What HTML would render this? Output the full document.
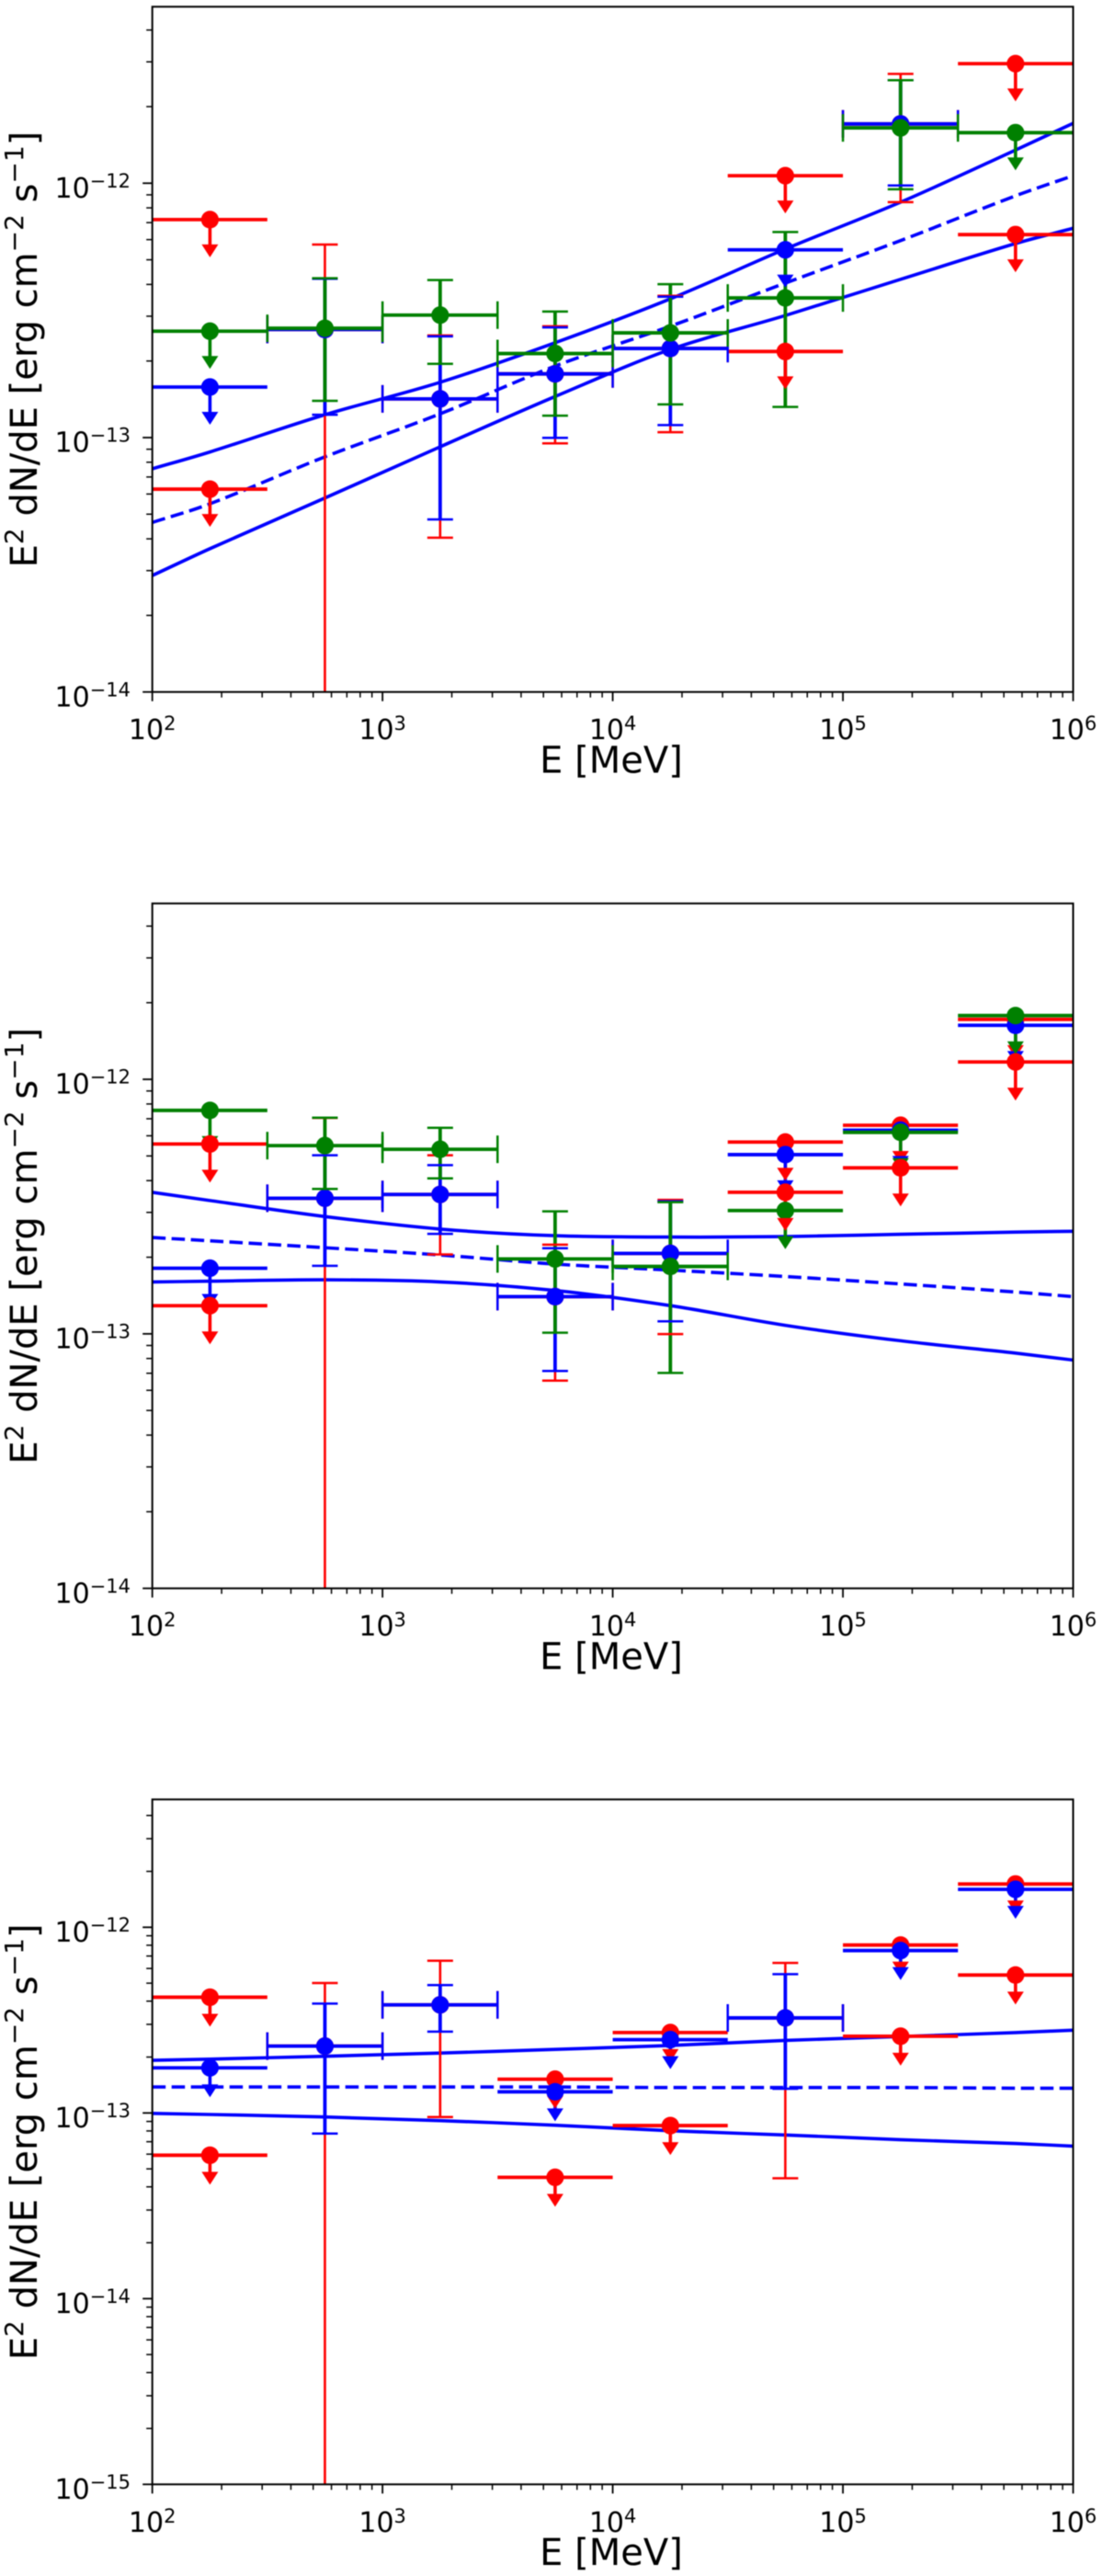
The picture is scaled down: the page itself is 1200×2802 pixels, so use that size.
<!DOCTYPE html>
<html lang="en">
<head>
<meta charset="utf-8">
<title>Spectral energy distributions</title>
<style>
html,body{margin:0;padding:0;background:#fff;width:1200px;height:2802px;overflow:hidden}
svg{display:block;filter:blur(.55px)}
text{font-family:"DejaVu Sans","Liberation Sans",sans-serif;fill:#000}
</style>
</head>
<body>
<svg id="figure" xmlns="http://www.w3.org/2000/svg" width="1200" height="2802" viewBox="0 0 1200 2802">
<rect x="0" y="0" width="1200" height="2802" fill="#fff"/>
</svg>
<script>
// Energy bins (MeV)
const binCenters = [178, 562, 1780, 5620, 17800, 56200, 178000, 562000];
const binLow = [100, 316, 1000, 3160, 10000, 31600, 100000, 316000];
const binHigh = [316, 1000, 3160, 10000, 31600, 100000, 316000, 1000000];
const xTickExponents = [2, 3, 4, 5, 6];

// All flux values below are in units of 1e-13 erg cm^-2 s^-1; null flux = no point,
// null hi/lo = the point is an upper limit.
const fluxUnit = 1e-13;
const offScale = 1e-4;

// Fit curves sample energies (MeV)
const fitEnergies = [100, 178, 562, 1780, 5620, 17800, 56200, 178000, 562000, 1000000];

// Panel 1
const panel1RedFlux = [7.19, 2.66, 1.42, 1.78, 2.24, 10.7, 17.1, 29.5];
const panel1RedHi = [null, 5.74, 2.52, 2.74, 3.61, null, 26.9, null];
const panel1RedLo = [null, offScale, 0.404, 0.949, 1.05, null, 8.42, null];
const panel1RedLimit = [0.627, null, null, null, null, 2.18, null, 6.28];
const panel1BlueFlux = [1.58, 2.66, 1.42, 1.78, 2.24, 5.47, 17.1, null];
const panel1BlueHi = [null, 4.21, 2.50, 2.71, 3.58, null, 25.4, null];
const panel1BlueLo = [null, 1.23, 0.477, 0.998, 1.12, null, 9.80, null];
const panel1GreenFlux = [2.62, 2.69, 3.03, 2.14, 2.58, 3.54, 16.5, 15.8];
const panel1GreenHi = [null, 4.23, 4.16, 3.13, 4.01, 6.43, 25.4, null];
const panel1GreenLo = [null, 1.395, 1.95, 1.22, 1.35, 1.32, 9.46, null];
const panel1FitUpper = [0.754, 0.878, 1.23, 1.65, 2.36, 3.51, 5.51, 8.42, 13.5, 17.2];
const panel1FitMid = [0.464, 0.549, 0.840, 1.24, 1.91, 2.74, 4.05, 5.95, 8.92, 10.7];
const panel1FitLower = [0.287, 0.366, 0.579, 0.920, 1.45, 2.22, 3.02, 4.19, 5.79, 6.65];

// Panel 2
const panel2RedFlux = [null, 3.41, 3.53, 1.40, 2.07, 5.67, 6.60, 17.2];
const panel2RedHi = [null, 7.05, 5.03, 2.24, 3.36, null, null, null];
const panel2RedLo = [null, offScale, 2.05, 0.655, 0.998, null, null, null];
const panel2RedLimit = [1.29, null, null, null, null, 3.60, 4.49, 11.7];
const panel2RedLimitTop = [5.57, null, null, null, null, null, null, null];
const panel2BlueFlux = [1.81, 3.41, 3.53, 1.40, 2.07, 5.06, 6.31, 16.3];
const panel2BlueHi = [null, 5.03, 4.60, 2.17, 3.32, null, null, null];
const panel2BlueLo = [null, 1.85, 2.47, 0.715, 1.12, null, null, null];
const panel2GreenFlux = [7.55, 5.49, 5.31, 1.97, 1.84, 3.05, 6.19, 17.8];
const panel2GreenHi = [null, 7.07, 6.45, 3.03, 3.29, null, null, null];
const panel2GreenLo = [null, 3.71, 4.08, 1.01, 0.702, null, null, null];
const panel2FitUpper = [3.60, 3.34, 2.89, 2.58, 2.43, 2.40, 2.41, 2.46, 2.51, 2.53];
const panel2FitMid = [2.39, 2.32, 2.18, 2.04, 1.88, 1.78, 1.68, 1.57, 1.46, 1.40];
const panel2FitLower = [1.60, 1.61, 1.63, 1.60, 1.48, 1.29, 1.08, 0.939, 0.840, 0.789];

// Panel 3
const panel3RedFlux = [4.20, 2.29, 3.82, 1.52, 2.71, 3.25, 8.02, 17.1];
const panel3RedHi = [null, 5.01, 6.60, null, null, 6.43, null, null];
const panel3RedLo = [null, offScale, 0.951, null, null, 0.445, null, null];
const panel3RedLimit = [0.592, null, null, 0.450, 0.855, null, 2.59, 5.53];
const panel3BlueFlux = [1.75, 2.29, 3.82, 1.30, 2.48, 3.25, 7.49, 16.0];
const panel3BlueHi = [null, 3.88, 4.88, null, null, 5.59, null, null];
const panel3BlueLo = [null, 0.775, 2.74, null, null, 1.35, null, null];
const panel3FitUpper = [1.92, 1.95, 2.02, 2.10, 2.20, 2.31, 2.46, 2.58, 2.71, 2.79];
const panel3FitMid = [1.38, 1.38, 1.38, 1.38, 1.38, 1.37, 1.37, 1.37, 1.36, 1.36];
const panel3FitLower = [0.995, 0.981, 0.951, 0.909, 0.859, 0.802, 0.761, 0.718, 0.684, 0.663];

const panel1YTicks = [-14, -13, -12];
const panel2YTicks = [-14, -13, -12];
const panel3YTicks = [-15, -14, -13, -12];

const NS = 'http://www.w3.org/2000/svg';
const figure = document.getElementById('figure');
const plotLeft = 165.7, plotRight = 1167.5;
const RED = '#ff0000', BLUE = '#0000ff', GREEN = '#008000';

function xScale(e) {
  return plotLeft + (Math.log10(e) - 2) / 4 * (plotRight - plotLeft);
}
function make(tag, attrs, parent) {
  const el = document.createElementNS(NS, tag);
  for (const k in attrs) el.setAttribute(k, attrs[k]);
  parent.appendChild(el);
  return el;
}
function seg(parent, x1, y1, x2, y2, color, w, name) {
  const el = make('line', {x1: x1, y1: y1, x2: x2, y2: y2, stroke: color, 'stroke-width': w}, parent);
  
  
  return el;
}
function group(parent, name) {
  const el = make('g', {}, parent);
  
  
  return el;
}
function pow10Label(parent, x, y, anchor, exponent, size, supSize, rise, name) {
  const t = make('text', {x: x, y: y, 'text-anchor': anchor, 'font-size': size}, parent);
  
  
  const base = make('tspan', {}, t);
  base.textContent = '10';
  const sup = make('tspan', {dy: -rise, 'font-size': supSize}, t);
  sup.textContent = String(exponent).replace('-', '\u2212');
  return t;
}

function drawSeries(segLayer, markLayer, yScale, values, hi, lo, color, drop, bottom, prefix) {
  values.forEach(function (v, i) {
    if (v === null) return;
    const cx = xScale(binCenters[i]);
    const cy = yScale(v * fluxUnit);
    const xl = xScale(binLow[i]);
    const xh = xScale(binHigh[i]);
    const name = prefix + '-bin-' + (i + 1);
    seg(segLayer, xl, cy, xh, cy, color, 3.8, name + '-x-error');
    if (hi[i] === null || hi[i] === undefined) {
      seg(segLayer, cx, cy, cx, cy + drop - 6, color, 3.6, name + '-limit-stem');
      const head = make('polygon', {
        points: (cx - 9) + ',' + (cy + drop - 14) + ' ' + (cx + 9) + ',' + (cy + drop - 14) + ' ' + cx + ',' + (cy + drop),
        fill: color
      }, markLayer);
      
      
    } else {
      const yh = yScale(hi[i] * fluxUnit);
      const yl = yScale(lo[i] * fluxUnit);
      seg(segLayer, cx, yh, cx, Math.min(yl, bottom), color, color === RED ? 2.6 : 3.8, name + '-y-error');
      seg(markLayer, cx - 14, yh, cx + 14, yh, color, 2.5, name + '-upper-cap');
      if (yl < bottom) {
        seg(markLayer, cx - 14, yl, cx + 14, yl, color, 2.5, name + '-lower-cap');
      }
      seg(markLayer, xl, cy - 15, xl, cy + 15, color, 2.5, name + '-left-cap');
      seg(markLayer, xh, cy - 15, xh, cy + 15, color, 2.5, name + '-right-cap');
    }
    const dot = make('circle', {cx: cx, cy: cy, r: 9.6, fill: color}, markLayer);
    
    
  });
}

function drawFit(layer, yScale, values, dashed, name) {
  const xs = fitEnergies.map(xScale);
  const ys = values.map(function (v) { return yScale(v * fluxUnit); });
  const n = xs.length;
  const slopes = xs.map(function (x, i) {
    const a = Math.max(i - 1, 0), b = Math.min(i + 1, n - 1);
    return (ys[b] - ys[a]) / (xs[b] - xs[a]);
  });
  let d = 'M' + xs[0].toFixed(1) + ' ' + ys[0].toFixed(1);
  for (let i = 0; i < n - 1; i++) {
    const h = (xs[i + 1] - xs[i]) / 3;
    d += ' C' + (xs[i] + h).toFixed(1) + ' ' + (ys[i] + slopes[i] * h).toFixed(1) +
         ' ' + (xs[i + 1] - h).toFixed(1) + ' ' + (ys[i + 1] - slopes[i + 1] * h).toFixed(1) +
         ' ' + xs[i + 1].toFixed(1) + ' ' + ys[i + 1].toFixed(1);
  }
  const attrs = {d: d, fill: 'none', stroke: BLUE, 'stroke-width': 3.6};
  if (dashed) attrs['stroke-dasharray'] = '14.5 6.5';
  const el = make('path', attrs, layer);
  
  
}

function drawPanel(cfg) {
  const top = cfg.top, bottom = cfg.bottom;
  const logMin = Math.log10(cfg.yMin), logMax = Math.log10(cfg.yMax);
  function yScale(v) {
    return bottom - (Math.log10(v) - logMin) / (logMax - logMin) * (bottom - top);
  }
  const panel = group(figure, cfg.name);

  const clip = make('clipPath', {id: cfg.name + '-clip'}, panel);
  make('rect', {x: plotLeft, y: top, width: plotRight - plotLeft, height: bottom - top}, clip);

  const plot = group(panel, cfg.name + '-plot-area');
  plot.setAttribute('clip-path', 'url(#' + cfg.name + '-clip)');

  const fits = group(plot, cfg.name + '-fit-butterfly');
  drawFit(fits, yScale, cfg.fitUpper, false, cfg.name + '-fit-upper-bound');
  drawFit(fits, yScale, cfg.fitMid, true, cfg.name + '-fit-best');
  drawFit(fits, yScale, cfg.fitLower, false, cfg.name + '-fit-lower-bound');

  const segLayer = group(plot, cfg.name + '-error-bars');
  const markLayer = group(plot, cfg.name + '-markers');
  cfg.series.forEach(function (s) {
    drawSeries(segLayer, markLayer, yScale, s.flux, s.hi, s.lo, s.color, cfg.drop, bottom, cfg.name + '-' + s.label);
  });

  // axes ticks
  const axes = group(panel, cfg.name + '-axes');
  for (let d = 2; d < 6; d++) {
    for (let m = 2; m < 10; m++) {
      const tx = xScale(m * Math.pow(10, d));
      seg(axes, tx, bottom, tx, bottom + 6, '#000', 1.5, cfg.name + '-x-minor-tick');
    }
  }
  xTickExponents.forEach(function (ex) {
    const tx = xScale(Math.pow(10, ex));
    seg(axes, tx, bottom, tx, bottom + 10, '#000', 1.8, cfg.name + '-x-major-tick');
    pow10Label(axes, tx, bottom + 51.5, 'middle', ex, 30, 21, 10, cfg.name + '-x-tick-label');
  });
  for (let d = Math.floor(logMin); d <= Math.floor(logMax); d++) {
    for (let m = 2; m < 10; m++) {
      const val = m * Math.pow(10, d);
      if (val > cfg.yMax) continue;
      const ty = yScale(val);
      seg(axes, plotLeft - 6.5, ty, plotLeft, ty, '#000', 1.5, cfg.name + '-y-minor-tick');
    }
  }
  cfg.yTicks.forEach(function (ex) {
    const ty = yScale(Math.pow(10, ex));
    seg(axes, plotLeft - 10.5, ty, plotLeft, ty, '#000', 1.8, cfg.name + '-y-major-tick');
    pow10Label(axes, 142, ty + 15.7, 'end', ex, 30, 21, 11, cfg.name + '-y-tick-label');
  });

  // spines
  const frame = make('rect', {x: plotLeft, y: top, width: plotRight - plotLeft, height: bottom - top, fill: 'none', stroke: '#000', 'stroke-width': 2}, axes);
  
  

  // axis titles
  const xt = make('text', {x: 665, y: bottom + 87.7, 'text-anchor': 'middle', 'font-size': 40}, axes);
  
  
  xt.textContent = 'E [MeV]';

  const cy = (top + bottom) / 2;
  const yt = make('text', {x: 0, y: 0, 'text-anchor': 'middle', 'font-size': 40, transform: 'translate(40 ' + cy + ') rotate(-90)'}, axes);
  
  
  const parts = [['E', 0], ['2', 1], [' dN/dE [erg cm', 0], ['\u22122', 1], [' s', 0], ['\u22121', 1], [']', 0]];
  let prevSup = 0;
  parts.forEach(function (p) {
    const ts = make('tspan', {'font-size': p[1] ? 28 : 40, dy: (prevSup - p[1]) * 15}, yt);
    ts.setAttribute('xml:space', 'preserve');
    ts.style.whiteSpace = 'pre';
    ts.textContent = p[0];
    prevSup = p[1];
  });
}

drawPanel({
  name: 'top-panel', top: 7.3, bottom: 752.7, yMin: 1e-14, yMax: 4.94e-12, drop: 41,
  yTicks: panel1YTicks,
  fitUpper: panel1FitUpper, fitMid: panel1FitMid, fitLower: panel1FitLower,
  series: [
    {label: 'red', color: RED, flux: panel1RedFlux, hi: panel1RedHi, lo: panel1RedLo},
    {label: 'blue', color: BLUE, flux: panel1BlueFlux, hi: panel1BlueHi, lo: panel1BlueLo},
    {label: 'green', color: GREEN, flux: panel1GreenFlux, hi: panel1GreenHi, lo: panel1GreenLo},
    {label: 'red-limit', color: RED, flux: panel1RedLimit, hi: [], lo: []}
  ]
});
drawPanel({
  name: 'middle-panel', top: 982.7, bottom: 1727.7, yMin: 1e-14, yMax: 4.91e-12, drop: 42,
  yTicks: panel2YTicks,
  fitUpper: panel2FitUpper, fitMid: panel2FitMid, fitLower: panel2FitLower,
  series: [
    {label: 'red', color: RED, flux: panel2RedFlux, hi: panel2RedHi, lo: panel2RedLo},
    {label: 'blue', color: BLUE, flux: panel2BlueFlux, hi: panel2BlueHi, lo: panel2BlueLo},
    {label: 'green', color: GREEN, flux: panel2GreenFlux, hi: panel2GreenHi, lo: panel2GreenLo},
    {label: 'red-limit', color: RED, flux: panel2RedLimit, hi: [], lo: []},
    {label: 'red-limit-top', color: RED, flux: panel2RedLimitTop, hi: [], lo: []}
  ]
});
drawPanel({
  name: 'bottom-panel', top: 1957.3, bottom: 2702.3, yMin: 1e-15, yMax: 4.88e-12, drop: 32,
  yTicks: panel3YTicks,
  fitUpper: panel3FitUpper, fitMid: panel3FitMid, fitLower: panel3FitLower,
  series: [
    {label: 'red', color: RED, flux: panel3RedFlux, hi: panel3RedHi, lo: panel3RedLo},
    {label: 'blue', color: BLUE, flux: panel3BlueFlux, hi: panel3BlueHi, lo: panel3BlueLo},
    {label: 'red-limit', color: RED, flux: panel3RedLimit, hi: [], lo: []}
  ]
});
</script>
</body>
</html>
